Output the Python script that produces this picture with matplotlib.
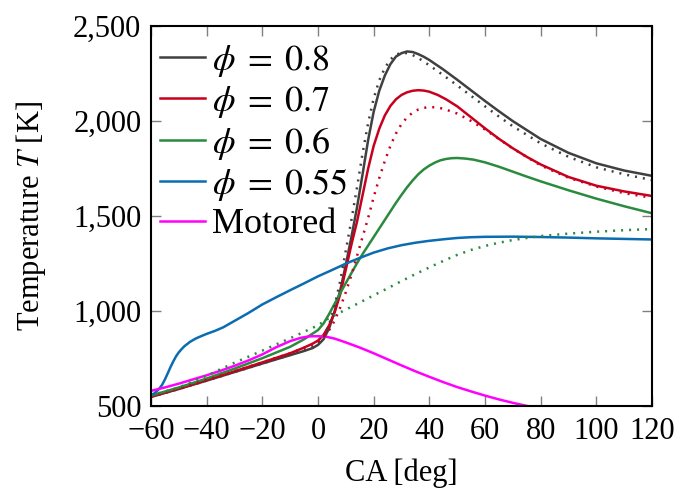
import matplotlib
matplotlib.use("Agg")
import matplotlib.pyplot as plt
from matplotlib.ticker import FuncFormatter, MultipleLocator

plt.rcParams["font.family"] = ["Liberation Serif", "DejaVu Serif"]
plt.rcParams["mathtext.fontset"] = "stix"

# Crank angle [deg] and temperature [K] for each case (solid: detailed, dotted: reduced)
ca_08 = [-60, -50, -40, -30, -20, -10, -5, -2, 0, 2, 4, 6, 8, 10, 12, 14, 16, 18, 20, 22, 24, 26, 28, 30, 32, 34, 36, 38, 40, 45, 50, 55, 60, 65, 70, 80, 90, 100, 110, 120]
T_08 = [548, 590, 634, 679, 724, 768, 790, 805, 822, 852, 910, 1000, 1110, 1245, 1390, 1545, 1720, 1900, 2050, 2160, 2240, 2300, 2340, 2358, 2367, 2364, 2353, 2339, 2322, 2272, 2218, 2162, 2106, 2052, 2000, 1906, 1833, 1778, 1740, 1712]

ca_08d = [-60, -50, -40, -30, -20, -10, -5, -2, 0, 2, 4, 6, 8, 10, 12, 14, 16, 18, 20, 22, 24, 26, 28, 30, 32, 34, 36, 40, 45, 50, 55, 60, 65, 70, 80, 90, 100, 110, 120]
T_08d = [548, 590, 634, 679, 724, 770, 793, 810, 828, 862, 930, 1030, 1160, 1320, 1480, 1650, 1830, 1990, 2120, 2215, 2280, 2325, 2350, 2360, 2358, 2348, 2333, 2294, 2242, 2188, 2133, 2078, 2024, 1973, 1883, 1812, 1757, 1720, 1690]

ca_07 = [-60, -50, -40, -30, -20, -10, -5, -2, 0, 2, 4, 6, 8, 10, 12, 14, 16, 18, 20, 22, 24, 26, 28, 30, 32, 34, 36, 38, 40, 43, 46, 50, 55, 60, 65, 70, 75, 80, 90, 100, 110, 120]
T_07 = [550, 592, 637, 683, 730, 778, 808, 828, 845, 875, 925, 995, 1090, 1220, 1350, 1470, 1610, 1750, 1870, 1960, 2030, 2080, 2115, 2138, 2152, 2160, 2163, 2161, 2155, 2138, 2115, 2078, 2020, 1962, 1907, 1857, 1812, 1772, 1706, 1660, 1630, 1606]

ca_07d = [-60, -50, -40, -30, -20, -10, -5, -2, 0, 2, 4, 6, 8, 10, 12, 14, 16, 18, 20, 22, 24, 26, 28, 30, 32, 34, 36, 38, 40, 42, 45, 50, 55, 60, 65, 70, 80, 90, 100, 110, 120]
T_07d = [550, 592, 637, 683, 730, 778, 806, 824, 838, 860, 900, 950, 1020, 1100, 1190, 1290, 1390, 1490, 1600, 1700, 1790, 1870, 1935, 1985, 2020, 2045, 2061, 2070, 2074, 2073, 2066, 2040, 2001, 1956, 1906, 1856, 1767, 1702, 1656, 1621, 1596]

ca_06 = [-60, -50, -40, -30, -20, -10, -5, 0, 2, 4, 6, 8, 10, 12, 14, 16, 18, 20, 22, 24, 26, 28, 30, 32, 34, 36, 38, 40, 42, 44, 46, 48, 50, 53, 56, 60, 65, 70, 75, 80, 90, 100, 110, 120]
T_06 = [555, 598, 645, 697, 752, 812, 852, 900, 935, 985, 1040, 1095, 1148, 1200, 1252, 1300, 1345, 1390, 1435, 1480, 1525, 1570, 1612, 1652, 1688, 1720, 1746, 1766, 1782, 1794, 1801, 1805, 1806, 1803, 1797, 1783, 1760, 1734, 1708, 1683, 1636, 1592, 1552, 1515]

ca_06d = [-60, -50, -40, -30, -20, -10, -5, 0, 3, 6, 10, 15, 20, 25, 30, 35, 40, 45, 50, 55, 60, 65, 70, 75, 80, 90, 100, 110, 120]
T_06d = [555, 598, 660, 728, 792, 857, 891, 925, 955, 978, 1008, 1045, 1083, 1120, 1158, 1195, 1230, 1264, 1296, 1322, 1343, 1360, 1374, 1385, 1395, 1408, 1418, 1426, 1432]

ca_055 = [-60, -59, -58, -57, -56, -55, -54, -53, -52, -51, -50, -49, -48, -46, -44, -42, -40, -37, -34, -31, -28, -25, -20, -15, -10, -5, 0, 5, 10, 15, 20, 25, 30, 35, 40, 45, 50, 55, 60, 70, 80, 90, 100, 110, 120]
T_055 = [558, 565, 577, 592, 612, 640, 672, 705, 735, 762, 783, 800, 815, 838, 855, 868, 880, 896, 915, 940, 965, 990, 1035, 1073, 1110, 1146, 1183, 1216, 1250, 1280, 1308, 1330, 1347, 1360, 1370, 1378, 1385, 1389, 1391, 1392, 1390, 1387, 1383, 1380, 1377]

ca_mot = [-60, -55, -50, -45, -40, -35, -30, -25, -20, -15, -10, -6, -3, 0, 3, 6, 10, 15, 20, 25, 30, 35, 40, 45, 50, 55, 60, 65, 70, 75, 80]
T_mot = [580, 598, 618, 640, 662, 686, 712, 740, 772, 810, 842, 860, 867, 868, 865, 855, 835, 808, 778, 746, 714, 683, 654, 626, 600, 577, 555, 535, 517, 501, 488]

labels = [r"$\phi\;=\;0.8$", r"$\phi\;=\;0.7$", r"$\phi\;=\;0.6$", r"$\phi\;=\;0.55$", "Motored"]

c_08 = "#404040"
c_07 = "#c8001e"
c_06 = "#2a8a3e"
c_055 = "#0b6cb0"
c_mot = "#ff00ff"

lw = 1.8
dotted = (0, (0.8, 2.4))

fig = plt.figure(figsize=(6.75, 4.94), dpi=100)
ax = fig.add_axes([0.2237, 0.178, 0.7423, 0.769])

kw = dict(lw=lw, solid_joinstyle="round")
ax.plot(ca_08, T_08, color=c_08, label=labels[0], **kw)
ax.plot(ca_07, T_07, color=c_07, label=labels[1], **kw)
ax.plot(ca_06, T_06, color=c_06, label=labels[2], **kw)
ax.plot(ca_055, T_055, color=c_055, label=labels[3], **kw)
ax.plot(ca_mot, T_mot, color=c_mot, label=labels[4], **kw)
ax.plot(ca_08d, T_08d, color=c_08, lw=lw, ls=dotted)
ax.plot(ca_07d, T_07d, color=c_07, lw=lw, ls=dotted)
ax.plot(ca_06d, T_06d, color=c_06, lw=lw, ls=dotted)

ax.set_xlim(-60, 120)
ax.set_ylim(500, 2500)
ax.xaxis.set_major_locator(MultipleLocator(20))
ax.yaxis.set_major_locator(MultipleLocator(500))
ax.yaxis.set_major_formatter(FuncFormatter(lambda v, p: f"{int(v):,}"))

ax.tick_params(direction="in", length=7, width=1, color="#808080",
               top=True, right=True, labelsize=22)
ax.tick_params(axis="x", pad=8)
ax.tick_params(axis="y", pad=7)
for s in ax.spines.values():
    s.set_linewidth(1.5)

ax.set_xlabel("CA [deg]", fontsize=22, labelpad=9)
ax.set_ylabel(r"Temperature $T$ [K]", fontsize=22, labelpad=18)

ax.legend(loc="upper left", bbox_to_anchor=(0.018, 0.956), frameon=False,
          fontsize=26, handlelength=1.25, handletextpad=0.2,
          labelspacing=0.14, borderaxespad=0.0, borderpad=0.0)

fig.savefig("out.png", dpi=100)
